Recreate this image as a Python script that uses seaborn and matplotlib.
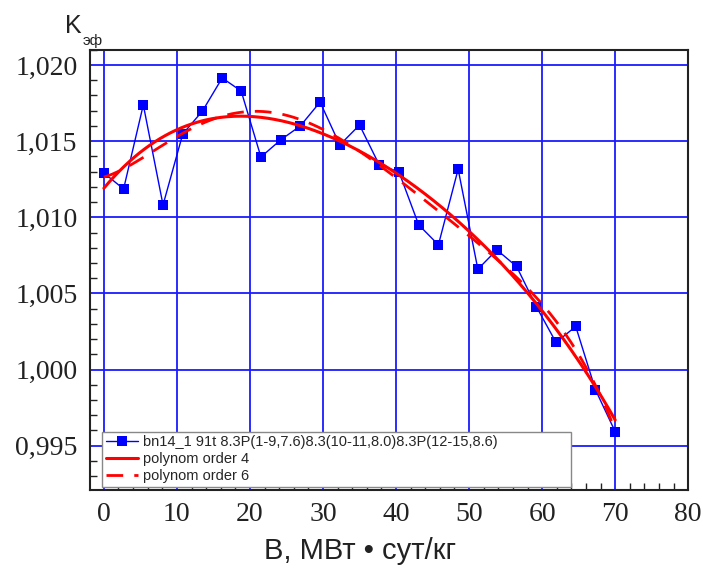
import numpy as np
import pandas as pd
import matplotlib
matplotlib.use("Agg")
import matplotlib.pyplot as plt
import seaborn as sns
from matplotlib.ticker import MultipleLocator, FuncFormatter

burnup = [0.0, 2.7, 5.4, 8.1, 10.8, 13.5, 16.2, 18.8, 21.5, 24.2, 26.9, 29.6, 32.3, 35.0,
          37.7, 40.4, 43.1, 45.8, 48.5, 51.2, 53.8, 56.5, 59.2, 61.9, 64.6, 67.3, 70.0]
keff = [1.01291, 1.01186, 1.01738, 1.01081, 1.01547, 1.01698, 1.01915, 1.01829, 1.01396,
        1.01508, 1.01600, 1.01757, 1.01475, 1.01606, 1.01344, 1.01298, 1.00950, 1.00819,
        1.01316, 1.00659, 1.00786, 1.00677, 1.00414, 1.00178, 1.00283, 0.99867, 0.99592]
series_label = "bn14_1 91t 8.3P(1-9,7.6)8.3(10-11,8.0)8.3P(12-15,8.6)"
fit_labels = ["polynom order 4", "polynom order 6"]
x_ticks = [0, 10, 20, 30, 40, 50, 60, 70, 80]
y_ticks = [0.995, 1.000, 1.005, 1.010, 1.015, 1.020]

sns.set_style("white")
plt.rcParams['font.family'] = ['Liberation Sans', 'DejaVu Sans']

df = pd.DataFrame({"B": burnup, "K": keff})
xs = np.linspace(min(burnup), max(burnup), 300)
p4 = np.polyval(np.polyfit(burnup, keff, 4), xs)
p6 = np.polyval(np.polyfit(burnup, keff, 6), xs)
fit4 = pd.DataFrame({"B": xs, "K": p4})
fit6 = pd.DataFrame({"B": xs, "K": p6})

fig = plt.figure(figsize=(7.03, 5.79), dpi=100)
ax = fig.add_axes([0.128, 0.154, 0.851, 0.760])

sns.lineplot(data=df, x="B", y="K", ax=ax, color="#0000ff", linewidth=1.0,
             marker="s", markersize=6.5, markeredgewidth=0, label=series_label, zorder=3)
sns.lineplot(data=fit4, x="B", y="K", ax=ax, color="#ff0000", linewidth=2.2,
             label=fit_labels[0], zorder=4)
sns.lineplot(data=fit6, x="B", y="K", ax=ax, color="#ff0000", linewidth=2.0,
             linestyle=(0, (6, 4)), label=fit_labels[1], zorder=4)

ax.set_xlim(-1.9, 80)
ax.set_ylim(0.9921, 1.021)
ax.set_xticks(x_ticks)
ax.set_yticks(y_ticks)
ax.xaxis.set_minor_locator(MultipleLocator(2))
ax.yaxis.set_minor_locator(MultipleLocator(0.001))
ax.yaxis.set_major_formatter(FuncFormatter(lambda v, p: f"{v:.3f}".replace(".", ",")))
ax.grid(True, which="major", color="#1a1aff", linewidth=1.3)
ax.set_axisbelow(True)

for s in ax.spines.values():
    s.set_visible(True)
    s.set_color("#222222")
    s.set_linewidth(1.5)

ax.tick_params(which="both", direction="in", top=False, right=False, colors="#222222")
ax.tick_params(which="major", length=9, width=1.2, pad=9)
ax.tick_params(which="minor", length=5, width=1.0)
ax.tick_params(which="minor", bottom=True, left=True)
for lab in ax.get_xticklabels() + ax.get_yticklabels():
    lab.set_family(['Liberation Serif', 'DejaVu Serif'])
    lab.set_fontsize(20)
    lab.set_color("#222222")

ax.set_xlabel("")
ax.set_ylabel("")
fig.text(0.512, 0.048, "B, МВт • сут/кг", fontsize=21, color="#222222",
         ha="center", va="center")
fig.text(0.092, 0.943, "K", fontsize=18, color="#222222", ha="left", va="baseline")
fig.text(0.118, 0.922, "эф", fontsize=11, color="#222222", ha="left", va="baseline")

leg = ax.legend(loc="lower left", bbox_to_anchor=(0.02, 0.007, 0.784, 0.134),
                bbox_transform=ax.transAxes, mode="expand",
                fontsize=10.5, frameon=True, fancybox=False, framealpha=1,
                edgecolor="#888888", handlelength=2.2, handletextpad=0.35,
                labelspacing=0.2, borderpad=0.25, borderaxespad=0.0)
leg.get_frame().set_linewidth(1.0)

fig.savefig("out.png", dpi=100)
